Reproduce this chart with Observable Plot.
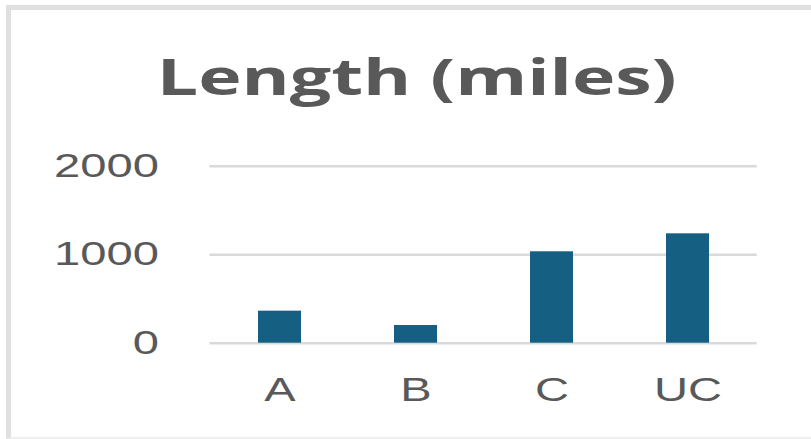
<!DOCTYPE html>
<html><head><meta charset="utf-8">
<script src="https://cdn.jsdelivr.net/npm/d3@7"></script>
<script src="https://cdn.jsdelivr.net/npm/@observablehq/plot@0.6"></script>
<style>
html,body{margin:0;padding:0;background:#fff;overflow:hidden;width:811px;height:439px;position:relative;}
#frame{position:absolute;left:6px;top:5px;width:830px;height:427px;border-left:5px solid #e0e0e0;border-top:5px solid #e0e0e0;border-bottom:2px solid #efefef;}
#title{position:absolute;left:0;top:0;}
#chart{position:absolute;left:0;top:120px;}
</style></head><body>
<div id="frame"></div>
<svg id="title" width="811" height="120"><text x="156.7" y="95" font-family="'Open Sans', sans-serif" font-weight="700" font-size="51" fill="#595959" textLength="520" lengthAdjust="spacingAndGlyphs">Length (miles)</text></svg>
<div id="chart"></div>
<script>
const categories = ["A", "B", "C", "UC"];
const lengths = [362, 200, 1033, 1236];
const yTicks = [0, 1000, 2000];

const data = categories.map((c, i) => ({cat: c, len: lengths[i]}));

const chart = Plot.plot({
  width: 811,
  height: 319,
  marginTop: 45.7,
  marginBottom: 96.3,
  marginLeft: 209.5,
  marginRight: 54.3,
  style: {fontFamily: "'Liberation Sans', Arial, sans-serif", fontSize: "32.5px", color: "#595959", background: "transparent"},
  x: {domain: categories, paddingInner: 0.686, paddingOuter: 0.343, label: null},
  y: {domain: [0, 2000], label: null},
  marks: [
    Plot.gridY(yTicks, {stroke: "#d9d9d9", strokeWidth: 2.5, strokeOpacity: 1}),
    Plot.barY(data, {x: "cat", y: "len", fill: "#156082"}),
    Plot.axisY(yTicks, {tickSize: 0, tickPadding: 51, label: null, tickFormat: d => String(d)}),
    Plot.axisX({tickSize: 0, tickPadding: 35, label: null})
  ]
});
document.getElementById("chart").appendChild(chart);
chart.querySelectorAll('g[aria-label="x-axis tick label"] text, g[aria-label="y-axis tick label"] text').forEach(t => {
  const w = t.getComputedTextLength();
  t.setAttribute("textLength", (w * 1.45).toFixed(1));
  t.setAttribute("lengthAdjust", "spacingAndGlyphs");
});
</script>
</body></html>
